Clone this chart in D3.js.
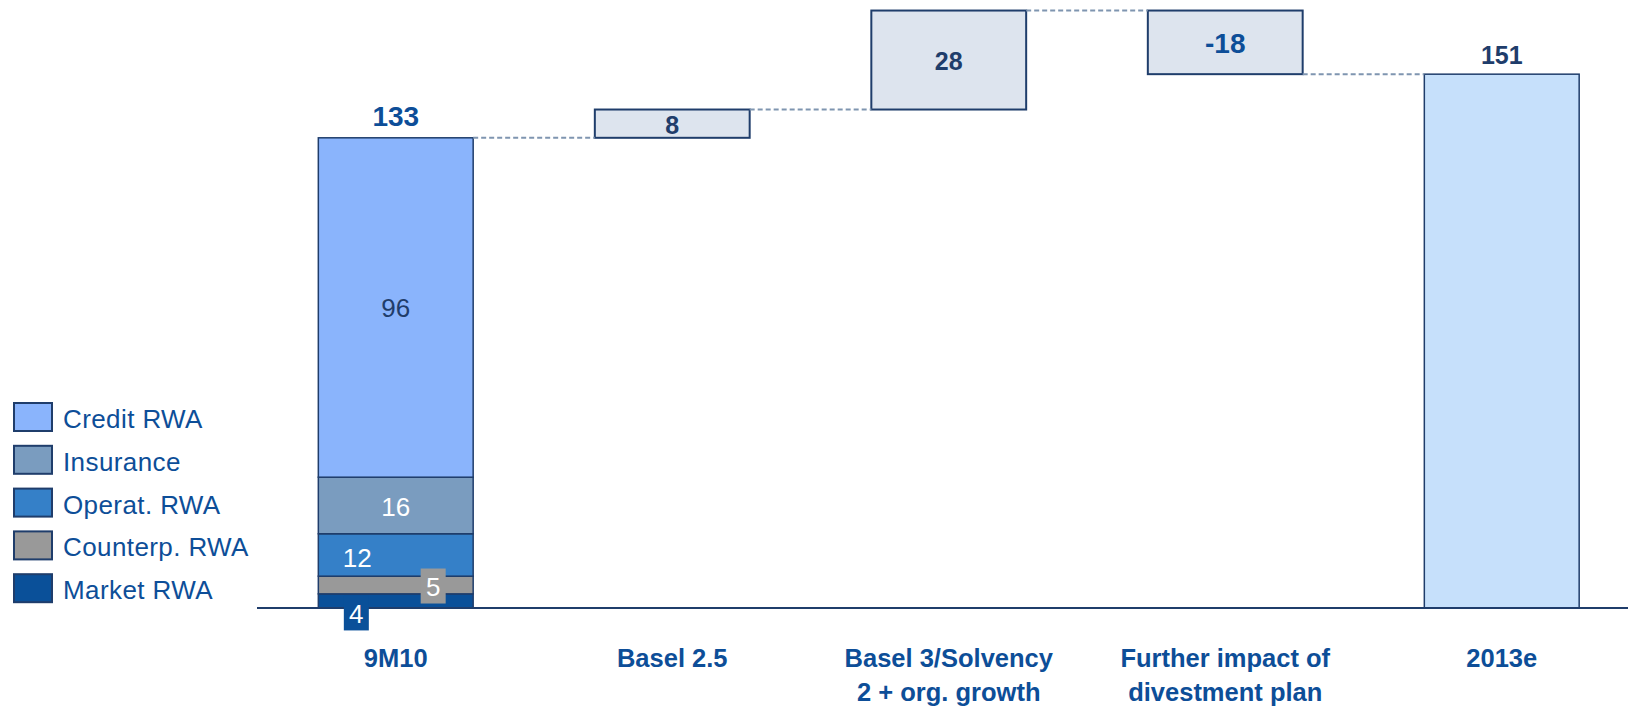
<!DOCTYPE html>
<html>
<head>
<meta charset="utf-8">
<script src="https://cdn.jsdelivr.net/npm/d3@7"></script>
<style>
  body { margin: 0; background: #fff; }
  svg { display: block; font-family: "Liberation Sans", Arial, sans-serif; }
</style>
</head>
<body>
<div id="chart"></div>
<script>
// data
var categories = ["9M10", "Basel 2.5", "Basel 3/Solvency|2 + org. growth", "Further impact of|divestment plan", "2013e"];
var stackNames = ["Market RWA", "Counterp. RWA", "Operat. RWA", "Insurance", "Credit RWA"];
var stackValues = [4, 5, 12, 16, 96];
var stackColors = ["#0a5099", "#999999", "#3580c8", "#7a9cbf", "#8ab4fc"];
var deltaValues = [8, 28, -18];
var totalEnd = 151;

var width = 1628, height = 710;
var navy = "#1f3d6b", blue = "#0d4e98";

var svg = d3.select("#chart").append("svg")
    .attr("width", width)
    .attr("height", height);

var x = d3.scaleBand()
    .domain(categories)
    .range([257.5, 1640])
    .paddingInner(0.44)
    .paddingOuter(0.22);

var y = d3.scaleLinear().domain([0, 170]).range([608, 7]);

// stacked first bar
var start = d3.sum(stackValues);
var stacked = [];
var acc = 0;
stackValues.forEach(function (v, i) {
    stacked.push({ name: stackNames[i], v: v, y0: acc, y1: acc + v, color: stackColors[i] });
    acc += v;
});

svg.append("g").selectAll("rect")
    .data(stacked)
    .enter()
    .append("rect")
    .attr("x", x(categories[0]))
    .attr("width", x.bandwidth())
    .attr("y", function (d) { return y(d.y1); })
    .attr("height", function (d) { return y(d.y0) - y(d.y1); })
    .style("fill", function (d) { return d.color; })
    .style("stroke", navy)
    .style("stroke-width", 1.5);

// segment labels
var bx = x(categories[0]), bw = x.bandwidth();
function mid(d) { return (y(d.y0) + y(d.y1)) / 2; }

svg.append("text")
    .attr("x", bx + bw / 2)
    .attr("y", mid(stacked[4]) + 9)
    .attr("text-anchor", "middle")
    .style("font-size", "26px")
    .style("fill", navy)
    .text(stacked[4].v);

svg.append("text")
    .attr("x", bx + bw / 2)
    .attr("y", mid(stacked[3]) + 11)
    .attr("text-anchor", "middle")
    .style("font-size", "26px")
    .style("fill", "#fff")
    .text(stacked[3].v);

svg.append("text")
    .attr("x", bx + 39)
    .attr("y", mid(stacked[2]) + 12)
    .attr("text-anchor", "middle")
    .style("font-size", "26px")
    .style("fill", "#fff")
    .text(stacked[2].v);

// total above first bar
svg.append("text")
    .attr("x", bx + bw / 2)
    .attr("y", y(start) - 12)
    .attr("text-anchor", "middle")
    .style("font-size", "28px")
    .style("font-weight", "bold")
    .style("fill", blue)
    .text(start);

// floating delta boxes
var steps = [];
var level = start;
deltaValues.forEach(function (v, i) {
    steps.push({ cat: categories[i + 1], v: v, from: level, to: level + v });
    level += v;
});

svg.append("g").selectAll("rect")
    .data(steps)
    .enter()
    .append("rect")
    .attr("x", function (d) { return x(d.cat); })
    .attr("width", x.bandwidth())
    .attr("y", function (d) { return y(Math.max(d.from, d.to)); })
    .attr("height", function (d) { return Math.abs(y(d.from) - y(d.to)); })
    .style("fill", "#dde4ee")
    .style("stroke", navy)
    .style("stroke-width", 2);

svg.append("g").selectAll("text")
    .data(steps)
    .enter()
    .append("text")
    .attr("x", function (d) { return x(d.cat) + x.bandwidth() / 2; })
    .attr("y", function (d) { return (y(d.from) + y(d.to)) / 2 + (d.v < 0 ? 11 : 10); })
    .attr("text-anchor", "middle")
    .style("font-size", function (d) { return d.v < 0 ? "28px" : "25px"; })
    .style("font-weight", "bold")
    .style("fill", function (d) { return d.v < 0 ? blue : navy; })
    .text(function (d) { return d.v; });

// end bar
svg.append("rect")
    .attr("x", x(categories[4]))
    .attr("width", x.bandwidth())
    .attr("y", y(totalEnd))
    .attr("height", y(0) - y(totalEnd))
    .style("fill", "#c6e0fb")
    .style("stroke", navy)
    .style("stroke-width", 1.5);

svg.append("text")
    .attr("x", x(categories[4]) + x.bandwidth() / 2)
    .attr("y", y(totalEnd) - 10)
    .attr("text-anchor", "middle")
    .style("font-size", "25px")
    .style("font-weight", "bold")
    .style("fill", navy)
    .text(totalEnd);

// dashed connectors
var levels = [start].concat(steps.map(function (d) { return d.to; }));
levels.forEach(function (l, i) {
    svg.append("line")
        .attr("x1", x(categories[i]) + x.bandwidth())
        .attr("x2", x(categories[i + 1]))
        .attr("y1", y(l))
        .attr("y2", y(l))
        .style("stroke", "#7f95b0")
        .style("stroke-width", 2)
        .style("stroke-dasharray", "5,3");
});

// baseline
svg.append("line")
    .attr("x1", 257)
    .attr("x2", width)
    .attr("y1", y(0))
    .attr("y2", y(0))
    .style("stroke", navy)
    .style("stroke-width", 2);

// small boxed labels for the thin segments, drawn over the baseline
var boxed = [
    { d: stacked[1], cx: bx + bw - 40, cy: mid(stacked[1]) + 1 },
    { d: stacked[0], cx: bx + 38, cy: mid(stacked[0]) + 12 }
];
boxed.forEach(function (b) {
    svg.append("rect")
        .attr("x", b.cx - 12.5)
        .attr("y", b.cy - 17.5)
        .attr("width", 25)
        .attr("height", 35)
        .style("fill", b.d.color);
    svg.append("text")
        .attr("x", b.cx)
        .attr("y", b.cy + 10)
        .attr("text-anchor", "middle")
        .style("font-size", "26px")
        .style("fill", "#fff")
        .text(b.d.v);
});

// category labels
categories.forEach(function (c) {
    var lines = c.split("|");
    var t = svg.append("text")
        .attr("x", x(c) + x.bandwidth() / 2)
        .attr("y", 667)
        .attr("text-anchor", "middle")
        .style("font-size", "25.5px")
        .style("font-weight", "bold")
        .style("fill", blue);
    lines.forEach(function (s, j) {
        t.append("tspan")
            .attr("x", x(c) + x.bandwidth() / 2)
            .attr("dy", j === 0 ? 0 : 34)
            .text(s);
    });
});

// legend
var legend = svg.append("g").selectAll("g")
    .data(stacked.slice().reverse())
    .enter()
    .append("g")
    .attr("transform", function (d, i) { return "translate(14," + (403 + i * 42.8) + ")"; });

legend.append("rect")
    .attr("width", 38)
    .attr("height", 28)
    .style("fill", function (d) { return d.color; })
    .style("stroke", navy)
    .style("stroke-width", 2);

legend.append("text")
    .attr("x", 49)
    .attr("y", 25)
    .style("font-size", "26px")
    .style("letter-spacing", "0.4px")
    .style("fill", blue)
    .text(function (d) { return d.name; });
</script>
</body>
</html>
